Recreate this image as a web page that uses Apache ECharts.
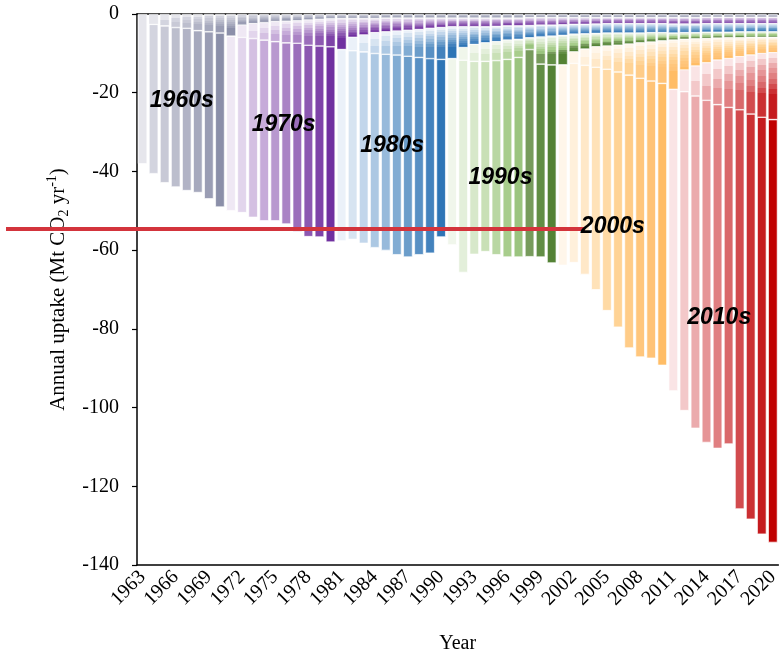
<!DOCTYPE html>
<html>
<head>
<meta charset="utf-8">
<script src="https://cdn.jsdelivr.net/npm/echarts@6/dist/echarts.min.js"></script>
<style>
  html, body { margin: 0; padding: 0; background: #fff; }
  #main { width: 782px; height: 660px; }
</style>
</head>
<body>
<div id="main"></div>
<script>
// 年份（类目轴）
const years = [
  '1963', '1964', '1965', '1966', '1967', '1968', '1969', '1970',
  '1971', '1972', '1973', '1974', '1975', '1976', '1977', '1978', '1979', '1980',
  '1981', '1982', '1983', '1984', '1985', '1986', '1987', '1988', '1989', '1990',
  '1991', '1992', '1993', '1994', '1995', '1996', '1997', '1998', '1999', '2000',
  '2001', '2002', '2003', '2004', '2005', '2006', '2007', '2008', '2009', '2010',
  '2011', '2012', '2013', '2014', '2015', '2016', '2017', '2018', '2019', '2020'
];

// 每年总吸收量 (Mt CO2 / yr)
const totalUptake = [
  -38.1, -40.6, -42.9, -44.0, -44.9, -45.4, -47.0, -49.1,
  -50.0, -50.5, -51.7, -52.6, -52.6, -53.4, -55.3, -56.6, -56.7, -58.0,
  -57.7, -57.3, -58.3, -59.4, -60.1, -61.2, -61.8, -61.2, -60.8, -56.7,
  -58.7, -65.7, -61.1, -60.4, -61.2, -61.8, -61.8, -61.7, -61.8, -63.3,
  -63.9, -63.2, -66.2, -70.1, -75.4, -79.6, -84.9, -87.2, -87.5, -89.3,
  -95.8, -100.8, -105.3, -108.9, -110.4, -109.3, -125.8, -128.4, -132.2, -134.3
];

// 往年种植批次的贡献（按年代合并），从 0 往下堆叠
const cohort1960s = [
  0, -2.6, -3.0, -3.4, -3.6, -4.2, -4.5, -4.8,
  -5.6, -2.8, -2.4, -2.2, -1.9, -1.8, -1.7, -1.5, -1.3, -1.2,
  -1.1, -1.1, -1.1, -1.1, -1.0, -1.0, -1.0, -1.0, -1.0, -1.0,
  -1.0, -1.0, -1.0, -1.0, -1.0, -1.0, -1.0, -0.9, -0.9, -0.9,
  -0.9, -0.9, -0.9, -0.9, -0.9, -0.9, -0.9, -0.9, -0.9, -0.9,
  -0.9, -0.9, -0.9, -0.8, -0.8, -0.8, -0.8, -0.8, -0.8, -0.8
];
const cohort1970s = [
  0, 0, 0, 0, 0, 0, 0, 0,
  0, -3.1, -3.8, -4.4, -5.1, -5.5, -5.7, -6.4, -6.8, -7.1,
  -7.9, -4.8, -4.2, -3.6, -3.5, -3.3, -3.1, -2.9, -2.6, -2.4,
  -2.2, -2.2, -2.2, -2.2, -2.1, -2.0, -2.0, -2.0, -1.9, -1.9,
  -1.8, -1.7, -1.7, -1.6, -1.5, -1.5, -1.5, -1.5, -1.5, -1.5,
  -1.6, -1.6, -1.6, -1.6, -1.6, -1.6, -1.6, -1.6, -1.6, -1.6
];
const cohort1980s = [
  0, 0, 0, 0, 0, 0, 0, 0,
  0, 0, 0, 0, 0, 0, 0, 0, 0, 0,
  0, -3.4, -4.3, -5.3, -5.7, -6.1, -6.6, -7.1, -7.7, -8.1,
  -8.1, -5.3, -4.5, -4.1, -3.9, -3.6, -3.4, -3.1, -3.0, -2.8,
  -2.7, -2.5, -2.4, -2.4, -2.4, -2.4, -2.4, -2.4, -2.3, -2.3,
  -2.3, -2.2, -2.2, -2.2, -2.2, -2.2, -2.1, -2.1, -2.1, -2.1
];
const cohort1990s = [
  0, 0, 0, 0, 0, 0, 0, 0,
  0, 0, 0, 0, 0, 0, 0, 0, 0, 0,
  0, 0, 0, 0, 0, 0, 0, 0, 0, 0,
  0, -3.2, -4.3, -4.7, -4.8, -4.9, -4.6, -3.0, -6.9, -7.3,
  -7.5, -4.5, -3.9, -3.4, -3.3, -3.1, -2.8, -2.5, -2.4, -2.1,
  -1.8, -1.7, -1.6, -1.6, -1.5, -1.4, -1.5, -1.4, -1.4, -1.4
];
const cohort2000s = [
  0, 0, 0, 0, 0, 0, 0, 0,
  0, 0, 0, 0, 0, 0, 0, 0, 0, 0,
  0, 0, 0, 0, 0, 0, 0, 0, 0, 0,
  0, 0, 0, 0, 0, 0, 0, 0, 0, 0,
  0, -2.9, -4.1, -5.2, -5.9, -6.8, -7.9, -9.0, -9.9, -10.8,
  -12.5, -7.8, -6.9, -6.2, -5.6, -5.3, -4.8, -4.5, -4.1, -3.9
];
const cohort2010s = [
  0, 0, 0, 0, 0, 0, 0, 0,
  0, 0, 0, 0, 0, 0, 0, 0, 0, 0,
  0, 0, 0, 0, 0, 0, 0, 0, 0, 0,
  0, 0, 0, 0, 0, 0, 0, 0, 0, 0,
  0, 0, 0, 0, 0, 0, 0, 0, 0, 0,
  0, -5.5, -7.6, -9.5, -11.3, -12.4, -13.5, -15.0, -16.2, -17.0
];

const decadeNames = ['1960s', '1970s', '1980s', '1990s', '2000s', '2010s'];
const decadeStart = [1963, 1971, 1981, 1991, 2001, 2011];

// 年代标注位置 [类目序号, 数值]
const decadeNotes = [
  [3.55, -22.1], [12.76, -28.2], [22.57, -33.5],
  [32.37, -41.7], [42.53, -54.1], [52.15, -77.2]
];
const redLineValue = -54.6;
const redLineEnd = 40; // 2003

// 每个年代由浅到深的配色
const palettes = [
  ['#e6e6ec', '#d3d4df', '#c8c9d6', '#bcbecd', '#b1b3c5', '#a6a9bd', '#9a9db4', '#8b8fa9'],
  ['#efe8f4', '#e2d5ec', '#d4c0e2', '#c6abd9', '#b898cf', '#aa83c5', '#9b6ebb', '#8c58b1', '#7e43a8', '#7030a0'],
  ['#ebf1f9', '#d7e4f1', '#c2d6eb', '#acc8e3', '#97badb', '#81acd3', '#6b9dca', '#5890c4', '#4382bd', '#2e75b6'],
  ['#f0f6eb', '#e3efda', '#d7e8ca', '#c9e0b6', '#b9d7a3', '#a8cd8c', '#9bc47f', '#779b5c', '#628e45', '#548235'],
  ['#fff6ea', '#fff0db', '#ffe8c8', '#ffe2b8', '#ffdaa5', '#ffd395', '#ffcc88', '#ffc67c', '#ffc377', '#ffbd66'],
  ['#fae4e5', '#f3c8c9', '#ebabad', '#e69496', '#e07f81', '#d9686a', '#d24b4e', '#cb2f32', '#c51a1e', '#c00000']
];

const serif = 'Liberation Serif';

function decadeOf(y) {
  let d = 0;
  decadeStart.forEach((s, k) => { if (y >= s) d = k; });
  return d;
}

// 条纹式渐变：每个批次一条色带
function stripes(cols, lastWeight) {
  if (cols.length === 1) return cols[0];
  const w = cols.map((c, i) => (i === cols.length - 1 ? lastWeight : 1));
  const sum = w.reduce((a, b) => a + b, 0);
  const stops = [];
  let acc = 0;
  cols.forEach((c, i) => {
    stops.push({ offset: acc / sum, color: c });
    acc += w[i];
    stops.push({ offset: acc / sum, color: c });
  });
  return new echarts.graphic.LinearGradient(0, 0, 0, 1, stops);
}

function bandColor(d, i) {
  const y = +years[i];
  const cur = decadeOf(y);
  const pal = palettes[d];
  if (cur === d) {
    const k = y - decadeStart[d];
    const cols = pal.slice(0, k);
    return stripes(cols, Math.max(1, (cols.length - 1) * 0.6));
  }
  if (cur === d + 1 && y === decadeStart[cur]) {
    return stripes(pal, (pal.length - 1) * 0.6);
  }
  return stripes(pal, 1);
}

const bands = [cohort1960s, cohort1970s, cohort1980s, cohort1990s, cohort2000s, cohort2010s];

// 当年新种植批次 = 总量 - 往年批次
const newCohort = totalUptake.map((t, i) => {
  let rest = t;
  bands.forEach(b => { rest -= b[i]; });
  return +rest.toFixed(1);
});

const chart = echarts.init(document.getElementById('main'));

const series = bands.map((arr, d) => ({
  name: decadeNames[d],
  type: 'bar',
  stack: 'uptake',
  barCategoryGap: '14%',
  itemStyle: { borderColor: 'rgba(255,255,255,0.7)', borderWidth: 0.4 },
  data: arr.map((v, i) => (v === 0 ? '-' : { value: v, itemStyle: { color: bandColor(d, i) } }))
}));

series.push({
  name: 'new',
  type: 'bar',
  stack: 'uptake',
  barCategoryGap: '14%',
  itemStyle: { borderColor: 'rgba(255,255,255,0.85)', borderWidth: 0.8 },
  data: newCohort.map((v, i) => {
    const y = +years[i];
    const d = decadeOf(y);
    return { value: v, itemStyle: { color: palettes[d][y - decadeStart[d]] } };
  })
});

const option = {
  animation: false,
  backgroundColor: '#fff',
  grid: { left: 137, right: 0, top: 14, bottom: 95 },
  xAxis: [
    {
      type: 'category',
      data: years,
      position: 'bottom',
      name: 'Year',
      nameLocation: 'middle',
      nameGap: 69,
      nameTextStyle: { fontFamily: serif, fontSize: 20, color: '#000' },
      axisLine: { onZero: false, lineStyle: { color: '#000', width: 1.5 } },
      axisTick: { inside: true, length: 5, interval: 2, lineStyle: { color: '#000', width: 1.2 } },
      axisLabel: { interval: 2, rotate: 45, margin: 9, fontFamily: serif, fontSize: 20, color: '#000' }
    },
    {
      type: 'category',
      data: years,
      position: 'top',
      axisLine: { onZero: false, lineStyle: { color: '#000', width: 1.5 } },
      axisTick: { show: false },
      axisLabel: { show: false }
    }
  ],
  yAxis: {
    type: 'value',
    min: -140,
    max: 0,
    interval: 20,
    name: '{a|Annual uptake (Mt CO}{sub|2}{a| yr}{sup|-1}{a|)}',
    nameLocation: 'middle',
    nameGap: 62,
    nameTextStyle: {
      rich: {
        a: { fontFamily: serif, fontSize: 21, color: '#000', lineHeight: 26 },
        sub: { fontFamily: serif, fontSize: 14, color: '#000', verticalAlign: 'bottom', lineHeight: 13 },
        sup: { fontFamily: serif, fontSize: 14, color: '#000', verticalAlign: 'top', lineHeight: 13 }
      }
    },
    splitLine: { show: false },
    axisLine: { show: true, lineStyle: { color: '#000', width: 1.5 } },
    axisTick: { show: true, length: 5, lineStyle: { color: '#000', width: 1.2 } },
    axisLabel: { margin: 18, fontFamily: serif, fontSize: 20, color: '#000' }
  },
  series: series
};

chart.setOption(option);

// 标注：年代文字与红色参考线
const p0 = chart.convertToPixel({ xAxisIndex: 0 }, 0);
const p1 = chart.convertToPixel({ xAxisIndex: 0 }, 1);
const band = p1 - p0;
const graphics = decadeNotes.map((n, d) => ({
  type: 'text',
  x: p0 + n[0] * band,
  y: chart.convertToPixel({ yAxisIndex: 0 }, n[1]),
  z: 100,
  style: {
    text: decadeNames[d],
    align: 'center',
    verticalAlign: 'middle',
    fontFamily: 'Liberation Sans',
    fontWeight: 'bold',
    fontStyle: 'italic',
    fontSize: 23,
    fill: '#000'
  }
}));
const lineY = chart.convertToPixel({ yAxisIndex: 0 }, redLineValue);
graphics.unshift({
  type: 'line',
  z: 90,
  shape: { x1: 6, y1: lineY, x2: p0 + redLineEnd * band, y2: lineY },
  style: { stroke: '#d3343c', lineWidth: 4 }
});
chart.setOption({ graphic: graphics });
</script>
</body>
</html>
